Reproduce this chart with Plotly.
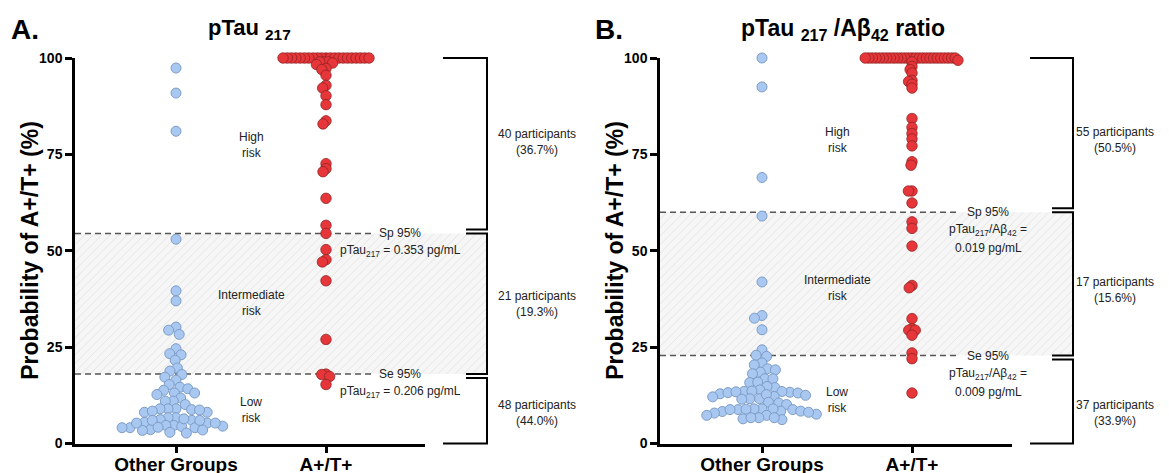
import math
import plotly.graph_objects as go

PAGE_W, PAGE_H = 1169, 473
OFF = 8  # default page body margin
W, H = PAGE_W - OFF, PAGE_H - OFF

# ---------------- data ----------------
categories = ["Other Groups", "A+/T+"]
y_ticks = [0, 25, 50, 75, 100]

# Panel A: pTau217
a_other = [97.4, 90.9, 81.0,
           53.0, 39.6, 37.0, 30.2, 29.4, 28.3, 24.6, 23.3, 23.0, 21.6, 19.6, 18.8,
           17.9, 17.2, 16.4, 15.3, 14.6, 14.2, 13.8, 13.1, 13.1, 12.7, 11.8, 11.0,
           11.0, 10.1, 9.0, 8.1, 8.1, 8.8, 8.7, 9.0, 9.0, 8.4, 6.7, 6.0, 5.5, 6.7,
           6.2, 4.7, 4.5, 5.3, 4.4, 4.7, 2.7, 3.6, 4.1, 2.9, 4.1, 4.1, 3.4, 3.5,
           6.0, 4.2, 5.3, 5.3, 6.0, 6.4]
a_apos = [100.0, 100.0, 100.0, 100.0, 100.0, 100.0, 100.0, 100.0, 100.0, 100.0,
          100.0, 100.0, 100.0, 100.0, 100.0, 100.0, 100.0, 100.0, 100.0, 100.0,
          100.0, 99.0, 99.0, 99.0, 98.7, 98.3, 97.3, 97.0, 95.5, 92.9, 92.2, 90.2,
          87.9, 83.7, 82.9, 72.6, 71.3, 70.5, 63.6, 56.6, 54.5, 50.3, 47.7, 47.1,
          42.2, 27.0, 18.0, 17.9, 17.4, 15.3]
a_sp, a_se = 54.5, 18.0
a_sp_text = "pTau<sub>217</sub> = 0.353 pg/mL"
a_se_text = "pTau<sub>217</sub> = 0.206 pg/mL"
a_counts = ["40 participants<br>(36.7%)", "21 participants<br>(19.3%)", "48 participants<br>(44.0%)"]

# Panel B: pTau217/Ab42 ratio
b_other = [100.0, 92.5, 69.0, 59.0, 41.9, 33.2, 32.5, 29.5, 24.3,
           22.9, 22.6, 20.9, 20.4, 19.4, 19.1, 18.5, 18.1, 16.8, 16.8, 15.8, 15.9,
           14.5, 14.8, 13.3, 13.9, 13.5, 12.9, 13.5, 13.1, 13.2, 13.4, 13.6, 12.2,
           11.6, 12.5, 12.7, 11.6, 11.5, 12.1, 10.5, 10.7, 10.1, 8.8, 9.0, 8.4, 8.8,
           8.3, 8.4, 7.9, 9.0, 8.9, 7.6, 8.1, 9.0, 8.8, 7.3, 6.2, 6.7, 7.3, 6.4,
           6.7, 6.7]
b_apos = [100.0, 100.0, 100.0, 100.0, 100.0, 100.0, 100.0, 100.0, 100.0, 100.0,
          100.0, 100.0, 100.0, 100.0, 100.0, 100.0, 100.0, 100.0, 100.0, 100.0,
          100.0, 100.0, 100.0, 100.0, 100.0, 100.0, 99.4, 99.0, 97.8, 97.0, 96.1,
          94.2, 93.9, 93.2, 92.2, 84.3, 82.0, 80.4, 79.0, 77.2, 73.1, 72.2, 65.5,
          65.5, 62.4, 57.5, 55.8, 51.2, 41.0, 40.4, 32.4, 29.8, 29.4, 29.4, 28.1,
          23.5, 22.0, 13.1]
b_sp, b_se = 60.0, 22.8
b_sp_text = ["pTau<sub>217</sub>/Aβ<sub>42</sub> =", "0.019 pg/mL"]
b_se_text = ["pTau<sub>217</sub>/Aβ<sub>42</sub> =", "0.009 pg/mL"]
b_counts = ["55 participants<br>(50.5%)", "17 participants<br>(15.6%)", "37 participants<br>(33.9%)"]

risk_labels = ["High<br>risk", "Intermediate<br>risk", "Low<br>risk"]

# ---------------- layout constants (page pixels) ----------------
FONT = "Arial, Liberation Sans, sans-serif"
Y_TOP, Y_BOT = 58, 443.5
Y_RANGE = [0, 100]
PX_PER_Y = (Y_BOT - Y_TOP) / (Y_RANGE[1] - Y_RANGE[0])
CAT_STEP = 150.0

panels = [
    dict(left=75, right=425, bracket=487, long_x=443, cat0=176, dash_end=372,
         other=a_other, apos=a_apos, sp=a_sp, se=a_se, d_other=8.0, d_apos=4.3,
         xa="x", ya="y", xv="x3", count_x=537, risk_x=251,
         risk_y=[145, 303, 410], count_y=[142, 304, 413], thr_x=400,
         sp_lines=["Sp 95%", a_sp_text], se_lines=["Se 95%", a_se_text],
         counts=a_counts, letter="A.", letter_x=9, title_size=22,
         title="pTau <sub>217</sub>", title_x=249, ytitle_x=30),
    dict(left=660, right=1012, bracket=1073, long_x=1030, cat0=762, dash_end=960,
         other=b_other, apos=b_apos, sp=b_sp, se=b_se, d_other=8.0, d_apos=3.6,
         xa="x2", ya="y2", xv="x4", count_x=1115, risk_x=837,
         risk_y=[140, 288, 400], count_y=[140, 290, 413], thr_x=988,
         sp_lines=["Sp 95%"] + b_sp_text, se_lines=["Se 95%"] + b_se_text,
         counts=b_counts, letter="B.", letter_x=593, title_size=23,
         title="pTau <sub>217</sub> /Aβ<sub>42</sub> ratio", title_x=843, ytitle_x=615),
]


def px_x(p):
    return (p - OFF) / W


def px_y(p):
    return 1 - (p - OFF) / H


def swarm_offsets(values, d, py_per_unit):
    """Simple beeswarm: returns horizontal pixel offsets."""
    order = sorted(range(len(values)), key=lambda i: -values[i])
    placed = []
    offs = [0.0] * len(values)
    for i in order:
        y = values[i] * py_per_unit
        near = [(px, py) for px, py in placed if abs(py - y) < d]
        cands = [0.0]
        for px, py in near:
            dx = math.sqrt(d * d - (py - y) ** 2)
            cands += [px + dx, px - dx]
        cands.sort(key=lambda c: (round(abs(c), 6), c))
        for c in cands:
            if all((c - px) ** 2 + (y - py) ** 2 >= d * d - 1e-6 for px, py in near):
                offs[i] = c
                break
        placed.append((offs[i], y))
    return offs


def ann(x, y, text, size=12, color="#222", bold=False, **kw):
    d = dict(x=x, y=y, xref="paper", yref="paper", text=text, showarrow=False,
             xanchor="center", yanchor="middle", align="center",
             font=dict(family=FONT, size=size, color=color, weight="bold" if bold else "normal"))
    d.update(kw)
    return d


fig = go.Figure()
layout = dict(
    width=W, height=H, margin=dict(l=0, r=0, t=0, b=0, pad=0, autoexpand=False),
    paper_bgcolor="white", plot_bgcolor="rgba(0,0,0,0)",
    showlegend=False, hovermode=False,
    font=dict(family=FONT, color="#222"),
)
shapes, annotations = [], []

ydom = [px_y(Y_BOT), px_y(Y_TOP)]


def vpaper(v):
    return ydom[0] + (v - Y_RANGE[0]) / (Y_RANGE[1] - Y_RANGE[0]) * (ydom[1] - ydom[0])


for k, p in enumerate(panels):
    xr0 = -(p["cat0"] - p["left"]) / CAT_STEP
    xr1_wide = (p["bracket"] - p["cat0"]) / CAT_STEP
    xr1_vis = (p["right"] - p["cat0"]) / CAT_STEP
    x_dash = (p["dash_end"] - p["cat0"]) / CAT_STEP
    xa, ya, xv = p["xa"], p["ya"], p["xv"]
    xkey = "xaxis" if xa == "x" else "xaxis" + xa[1:]
    ykey = "yaxis" if ya == "y" else "yaxis" + ya[1:]
    vkey = "xaxis" + xv[1:]

    layout[xkey] = dict(domain=[px_x(p["left"]), px_x(p["bracket"])], range=[xr0, xr1_wide],
                        visible=False, anchor=ya, fixedrange=True)
    layout[ykey] = dict(domain=ydom, range=Y_RANGE, anchor=xa, showline=True,
                        linecolor="black", linewidth=2.5, ticks="outside", ticklen=7,
                        tickwidth=2.5, tickcolor="black", tickvals=y_ticks,
                        showgrid=False, zeroline=False, automargin=False,
                        tickfont=dict(family=FONT, size=14, color="black", weight="bold"))
    layout[vkey] = dict(domain=[px_x(p["left"]), px_x(p["right"])], range=[xr0, xr1_vis],
                        anchor=ya, showline=True, linecolor="black", linewidth=2.5,
                        ticks="outside", ticklen=7, tickwidth=2.5, tickcolor="black",
                        tickvals=[0, 1], ticktext=categories, showgrid=False, zeroline=False,
                        automargin=False, ticklabelstandoff=-5,
                        tickfont=dict(family=FONT, size=19, color="black", weight="bold"))

    # hatched intermediate zone
    fig.add_trace(go.Scatter(
        x=[xr0, xr1_wide, xr1_wide, xr0, xr0], y=[p["se"], p["se"], p["sp"], p["sp"], p["se"]],
        mode="lines", fill="toself", line=dict(width=0), xaxis=xa, yaxis=ya,
        fillcolor="#f6f6f6",
        fillpattern=dict(shape="/", bgcolor="#f6f6f6", fgcolor="#d0d0d0", size=6, solidity=0.15)))
    # threshold dashed lines
    for thr in (p["sp"], p["se"]):
        fig.add_trace(go.Scatter(x=[xr0, x_dash], y=[thr, thr], mode="lines",
                                 line=dict(color="#555555", width=1.5, dash="6px,4px"),
                                 xaxis=xa, yaxis=ya))
    # empty trace to ensure visible axis subplot
    fig.add_trace(go.Scatter(x=[], y=[], xaxis=xv, yaxis=ya))

    # swarms
    off_o = swarm_offsets(p["other"], p["d_other"], PX_PER_Y)
    off_a = swarm_offsets(p["apos"], p["d_apos"], PX_PER_Y)
    fig.add_trace(go.Scatter(
        x=[0 + o / CAT_STEP for o in off_o], y=p["other"], mode="markers", cliponaxis=False,
        marker=dict(size=10, color="#a9c8f1", line=dict(color="#7e9dc6", width=1)),
        xaxis=xa, yaxis=ya))
    fig.add_trace(go.Scatter(
        x=[1 + o / CAT_STEP for o in off_a], y=p["apos"], mode="markers", cliponaxis=False,
        marker=dict(size=10.5, color="#e6363a", line=dict(color="rgba(140,35,35,0.75)", width=1)),
        xaxis=xa, yaxis=ya))

    # brackets
    gap = 1.0
    segs = [(Y_RANGE[1], p["sp"] + gap, True, False),
            (p["sp"], p["se"], False, False),
            (p["se"] - gap, Y_RANGE[0], False, True)]
    bx = px_x(p["bracket"])
    sx = px_x(p["bracket"] - 21)
    lx = px_x(p["long_x"])
    for top, bot, long_top, long_bot in segs:
        yt, yb = vpaper(top), vpaper(bot)
        x_top = lx if long_top else sx
        x_bot = lx if long_bot else sx
        shapes.append(dict(type="path", xref="paper", yref="paper",
                           path=f"M {x_top} {yt} L {bx} {yt} L {bx} {yb} L {x_bot} {yb}",
                           line=dict(color="black", width=2)))

    # counts
    for txt, cy in zip(p["counts"], p["count_y"]):
        annotations.append(ann(px_x(p["count_x"]), px_y(cy), txt))
    # risk labels
    for txt, ry in zip(risk_labels, p["risk_y"]):
        annotations.append(ann(px_x(p["risk_x"]), px_y(ry), txt))
    # threshold labels
    for thr, lines in ((p["sp"], p["sp_lines"]), (p["se"], p["se_lines"])):
        for j, t in enumerate(lines):
            annotations.append(ann(px_x(p["thr_x"]), vpaper(thr), t, yshift=-18 * j))
    # panel letter, title, y title
    annotations.append(ann(px_x(p["letter_x"]), px_y(29), p["letter"], size=28,
                           color="black", bold=True, xanchor="left"))
    annotations.append(ann(px_x(p["title_x"]), px_y(29), p["title"], size=p["title_size"],
                           color="black", bold=True))
    annotations.append(ann(px_x(p["ytitle_x"]), px_y((Y_TOP + Y_BOT) / 2),
                           "Probability of A+/T+ (%)", size=23, color="black", bold=True,
                           textangle=-90))

layout["shapes"] = shapes
layout["annotations"] = annotations
fig.update_layout(**layout)
fig.write_html("out.html")
